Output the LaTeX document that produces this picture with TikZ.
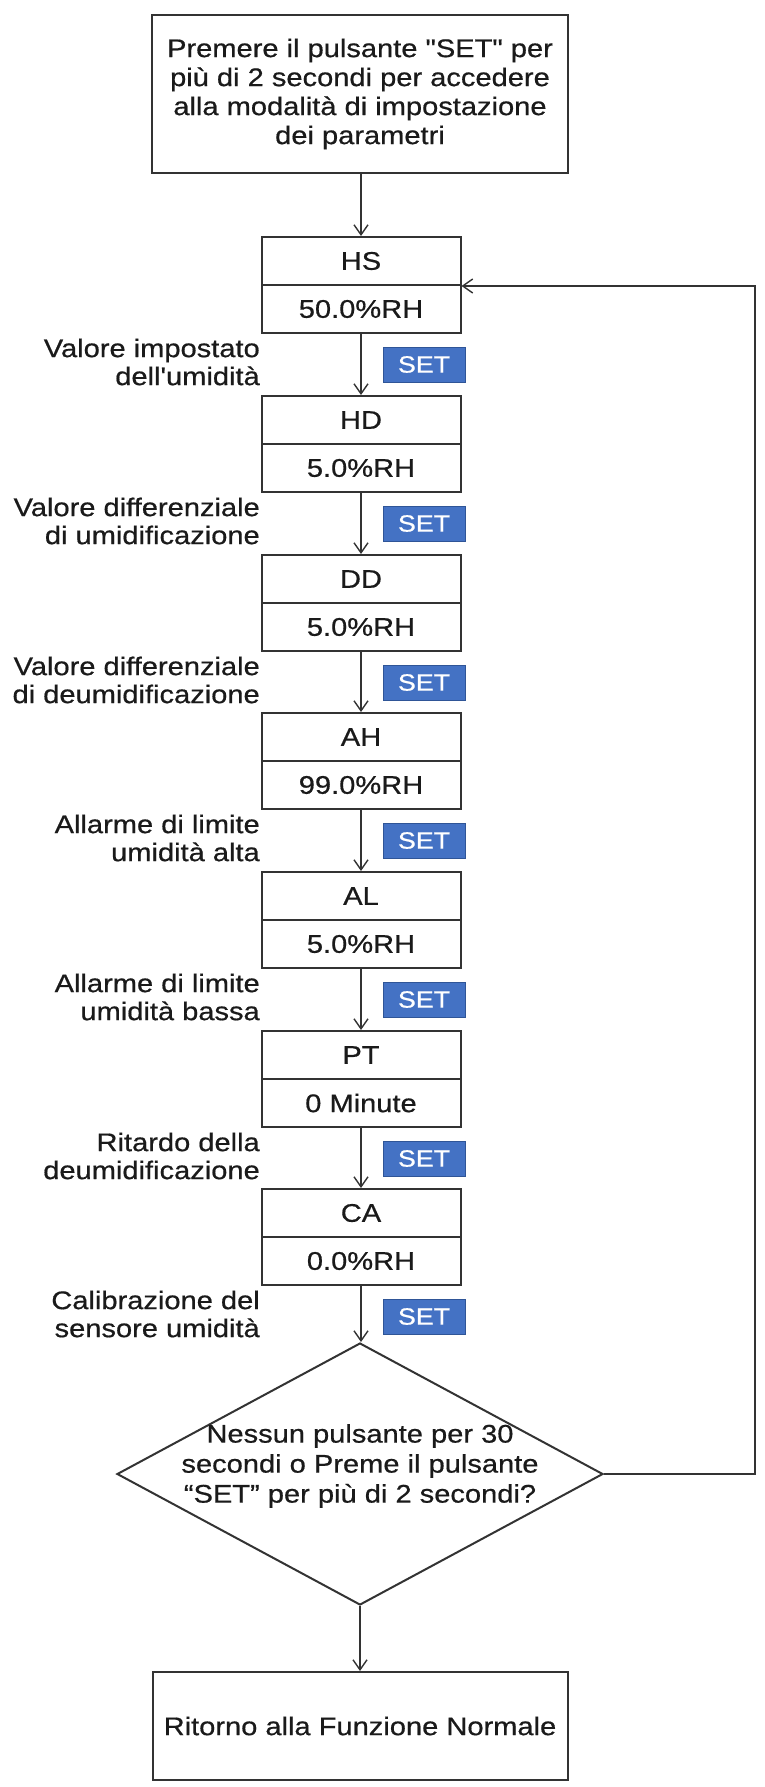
\documentclass[tikz,border=0pt]{standalone}
\usepackage{fontspec}
\setmainfont{Liberation Sans}[FakeStretch=1.14,FakeBold=0.6,Ligatures=TeXOff]
\usetikzlibrary{arrows.meta,shapes.geometric}
\definecolor{txt}{HTML}{1A1A1A}
\definecolor{ln}{HTML}{333333}
\definecolor{setfill}{HTML}{4472C4}
\definecolor{setdraw}{HTML}{2F5597}
\begin{document}
\begin{tikzpicture}[x=1pt,y=-1pt,
  every node/.style={text=txt},
  mainfont/.style={font=\fontsize{25.5}{28}\selectfont},
  topbox/.style={draw=ln,line width=2.8pt,minimum width=416pt,minimum height=158pt,inner sep=0pt,align=center,font=\fontsize{25.5}{29}\selectfont},
  halfbox/.style={draw=ln,line width=2pt,minimum width=199pt,minimum height=48pt,inner sep=0pt,mainfont},
  lbl/.style={anchor=east,align=right,inner sep=0pt,mainfont},
  setbadge/.style={fill=setfill,draw=setdraw,line width=1pt,minimum width=82pt,minimum height=35pt,inner sep=0pt,text=white,font=\fontsize{23.5}{23.5}\selectfont},
  arr/.style={draw=ln,line width=2pt,-{Straight Barb[length=10pt,width=14pt,line width=1.4pt]}},
  decbox/.style={draw=ln,line width=2pt,diamond,minimum width=486pt,minimum height=262pt,inner sep=0pt},
  endbox/.style={draw=ln,line width=2pt,minimum width=415pt,minimum height=108pt,inner sep=0pt,mainfont}
]
\useasboundingbox (0,0) rectangle (765,1787);

% top box
\node[topbox] (start) at (360,94) {Premere il pulsante "SET" per\\più di 2 secondi per accedere\\alla modalità di impostazione\\dei parametri};

% parameter boxes (top T, halves at T+24 and T+72)
\node[halfbox] (hs1) at (361,261) {HS};
\node[halfbox] (hs2) at (361,309) {50.0\%RH};
\node[halfbox] (hd1) at (361,420) {HD};
\node[halfbox] (hd2) at (361,468) {5.0\%RH};
\node[halfbox] (dd1) at (361,579) {DD};
\node[halfbox] (dd2) at (361,627) {5.0\%RH};
\node[halfbox] (ah1) at (361,737) {AH};
\node[halfbox] (ah2) at (361,785) {99.0\%RH};
\node[halfbox] (al1) at (361,896) {AL};
\node[halfbox] (al2) at (361,944) {5.0\%RH};
\node[halfbox] (pt1) at (361,1055) {PT};
\node[halfbox] (pt2) at (361,1103) {0 Minute};
\node[halfbox] (ca1) at (361,1213) {CA};
\node[halfbox] (ca2) at (361,1261) {0.0\%RH};

% labels (box bottom + 29)
\node[lbl] (lhs) at (260,362) {Valore impostato\\dell'umidità};
\node[lbl] (lhd) at (260,521) {Valore differenziale\\di umidificazione};
\node[lbl] (ldd) at (260,680) {Valore differenziale\\di deumidificazione};
\node[lbl] (lah) at (260,838) {Allarme di limite\\umidità alta};
\node[lbl] (lal) at (260,997) {Allarme di limite\\umidità bassa};
\node[lbl] (lpt) at (260,1156) {Ritardo della\\deumidificazione};
\node[lbl] (lca) at (260,1314) {Calibrazione del\\sensore umidità};

% SET badges (box bottom + 31.5)
\node[setbadge] (s1) at (424,364.5) {SET};
\node[setbadge] (s2) at (424,523.5) {SET};
\node[setbadge] (s3) at (424,682.5) {SET};
\node[setbadge] (s4) at (424,840.5) {SET};
\node[setbadge] (s5) at (424,999.5) {SET};
\node[setbadge] (s6) at (424,1158.5) {SET};
\node[setbadge] (s7) at (424,1316.5) {SET};

% decision
\node[decbox] (dec) at (360,1474) {};
\node[align=center,inner sep=0pt,font=\fontsize{25.5}{30}\selectfont] (dect) at (360,1466) {Nessun pulsante per 30\\secondi o Preme il pulsante\\“SET” per più di 2 secondi?};

% end
\node[endbox] (fine) at (360,1726) {Ritorno alla Funzione Normale};

% connectors
\draw[arr] (hs1.north |- start.south) -- (hs1.north);
\draw[arr] (hs2.south) -- (hd1.north);
\draw[arr] (hd2.south) -- (dd1.north);
\draw[arr] (dd2.south) -- (ah1.north);
\draw[arr] (ah2.south) -- (al1.north);
\draw[arr] (al2.south) -- (pt1.north);
\draw[arr] (pt2.south) -- (ca1.north);
\draw[arr] (ca2.south) -- (ca2.south |- dec.north);
\draw[arr] (dec.south) -- (dec.south |- fine.north);
\coordinate (loopc) at (755,1474);
\draw[arr] (dec.east) -- (loopc) |- (hs1.south east);
\end{tikzpicture}
\end{document}
